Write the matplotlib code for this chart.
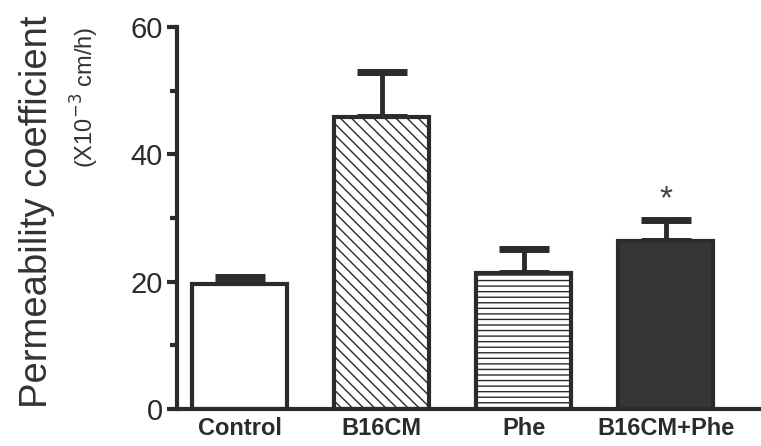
"""Permeability coefficient bar chart (Control / B16CM / Phe / B16CM+Phe)."""
import matplotlib
matplotlib.use("Agg")
import matplotlib.pyplot as plt
import numpy as np

categories = ["Control", "B16CM", "Phe", "B16CM+Phe"]
means = [19.7, 45.9, 21.4, 26.4]
sem = [1.0, 7.1, 3.8, 3.3]
hatches = ["", "\\\\\\", "---", ""]
faces = ["white", "white", "white", "#363636"]
sig = [False, False, False, True]

INK = "#2b2b2b"

plt.rcParams["font.family"] = ["Liberation Sans", "DejaVu Sans"]
plt.rcParams["hatch.linewidth"] = 1.0

fig = plt.figure(figsize=(7.61, 4.46), dpi=100)
ax = fig.add_axes([0.2326, 0.083, 0.7674, 0.8565])

x = np.arange(len(categories))
for i in range(len(categories)):
    ax.bar(x[i], means[i], width=0.67, color=faces[i], edgecolor=INK,
           linewidth=3, hatch=hatches[i], zorder=2)
    ax.errorbar(x[i], means[i], yerr=[[0], [sem[i]]], fmt="none",
                ecolor=INK, elinewidth=3.5, capsize=18, capthick=5, zorder=1)
    if sig[i]:
        ax.text(x[i], means[i] + sem[i] + 0.8, "*", ha="center", va="bottom",
                fontsize=24, color="#444444")

ax.set_xlim(-0.44, 3.67)
ax.set_ylim(0, 60)
ax.set_yticks([0, 20, 40, 60])
ax.set_yticks([10, 30, 50], minor=True)
ax.tick_params(axis="y", which="major", length=7, width=3, color=INK,
               labelsize=21, labelcolor=INK, pad=3)
ax.tick_params(axis="y", which="minor", length=5, width=3, color=INK)
ax.set_xticks(x)
ax.set_xticklabels(categories, fontsize=17, fontweight="bold", color=INK)
ax.tick_params(axis="x", length=0, pad=6)

for s in ["top", "right"]:
    ax.spines[s].set_visible(False)
for s in ["left", "bottom"]:
    ax.spines[s].set_linewidth(3)
    ax.spines[s].set_color(INK)

fig.text(0.048, 0.525, "Permeability coefficient", rotation=90, ha="center",
         va="center", fontsize=27.5, color="#333333")
fig.text(0.112, 0.782, "(X10$^{-3}$ cm/h)", rotation=90, ha="center",
         va="center", fontsize=17, color="#333333")

fig.savefig("out.png", dpi=100)
